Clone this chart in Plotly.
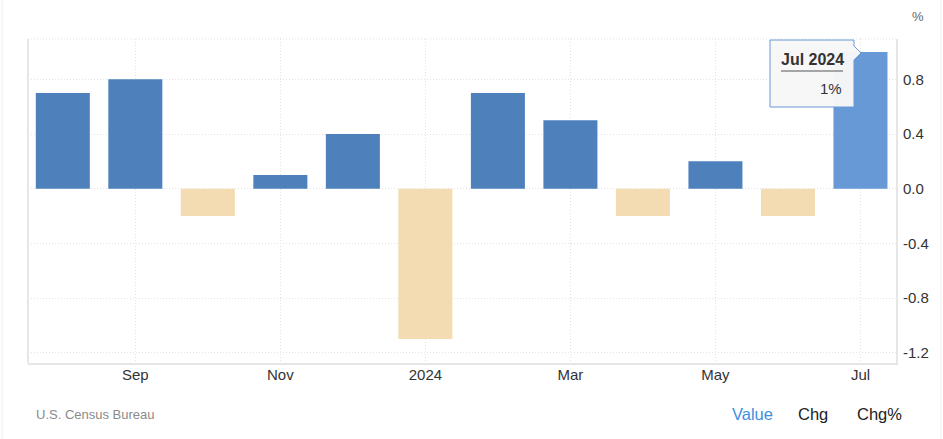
import plotly.graph_objects as go

# ---- data ----
months = ["Aug 2023", "Sep 2023", "Oct 2023", "Nov 2023", "Dec 2023", "Jan 2024",
          "Feb 2024", "Mar 2024", "Apr 2024", "May 2024", "Jun 2024", "Jul 2024"]
values = [0.7, 0.8, -0.2, 0.1, 0.4, -1.1, 0.7, 0.5, -0.2, 0.2, -0.2, 1.0]
tick_months = ["Sep 2023", "Nov 2023", "Jan 2024", "Mar 2024", "May 2024", "Jul 2024"]
tick_text = ["Sep", "Nov", "2024", "Mar", "May", "Jul"]
y_ticks = [0.8, 0.4, 0.0, -0.4, -0.8, -1.2]

POS = "#4e80bc"
NEG = "#f3dcb2"
HOVER = "#6699d5"
colors = [(NEG if v < 0 else POS) for v in values]
colors[-1] = HOVER

W, H = 943, 439
ML, MR, MT, MB = 28, 47, 39, 76
PW, PH = W - ML - MR, H - MT - MB
FONT = "Liberation Sans, Arial, sans-serif"


def px(x):
    return (x - ML) / PW


def py(y):
    return (H - MB - y) / PH


fig = go.Figure(go.Bar(x=months, y=values, marker=dict(color=colors, line=dict(width=0)),
                       width=0.745, hoverinfo="skip"))

fig.update_layout(
    width=W, height=H,
    margin=dict(l=ML, r=MR, t=MT, b=MB),
    paper_bgcolor="white", plot_bgcolor="white",
    showlegend=False,
    font=dict(family=FONT, color="#333333", size=15),
    bargap=0.25,
)
fig.update_xaxes(
    type="category", range=[-0.48, 11.49],
    tickvals=tick_months, ticktext=tick_text,
    showgrid=True, gridcolor="#e3e3e3", griddash="1px,2px", gridwidth=1,
    showline=True, linecolor="#e6e6e6", linewidth=2, mirror=False,
    ticks="", ticklabelstandoff=-3, tickfont=dict(size=15, color="#333333"), zeroline=False,
)
fig.update_yaxes(
    side="right", range=[-1.275, 1.095],
    tickvals=y_ticks, ticktext=[f"{v:.1f}" for v in y_ticks],
    showgrid=True, gridcolor="#e3e3e3", griddash="1px,2px", gridwidth=1,
    zeroline=False, showline=True, linecolor="#e6e6e6", linewidth=2,
    ticks="", ticklabelstandoff=2, tickfont=dict(size=15, color="#333333"),
)

shapes = []
# left border and top dotted line
shapes.append(dict(type="line", xref="paper", yref="paper", x0=0, x1=0, y0=0, y1=1,
                   line=dict(color="#e6e6e6", width=2)))
shapes.append(dict(type="line", xref="paper", yref="paper", x0=0, x1=1, y0=1, y1=1,
                   line=dict(color="#e3e3e3", width=1, dash="1px,2px")))
# card edges
for xe in (2, 941):
    shapes.append(dict(type="line", xref="paper", yref="paper", x0=px(xe), x1=px(xe),
                       y0=py(439), y1=py(0), line=dict(color="#efefef", width=1)))

# tooltip box with pointer
pts = [(770, 40), (854, 40), (854, 46), (861, 53), (854, 60), (854, 107), (770, 107)]
path = "M " + " L ".join(f"{px(a):.5f},{py(b):.5f}" for a, b in pts) + " Z"
shapes.append(dict(type="path", xref="paper", yref="paper", path=path,
                   fillcolor="rgba(247,247,247,0.97)", line=dict(color="#6a9ad8", width=1)))
shapes.append(dict(type="line", xref="paper", yref="paper", x0=px(781), x1=px(843),
                   y0=py(71), y1=py(71), line=dict(color="#555555", width=1)))
fig.update_layout(shapes=shapes)

ann = [
    dict(text="<b>Jul 2024</b>", x=px(812), y=py(59), xanchor="center", yanchor="middle",
         font=dict(size=16, color="#333333")),
    dict(text=f"{values[-1]:g}%", x=px(844), y=py(88), xanchor="right", yanchor="middle",
         font=dict(size=15, color="#333333")),
    dict(text="%", x=px(918), y=py(17), xanchor="center", yanchor="middle",
         font=dict(size=13, color="#666666")),
    dict(text="U.S. Census Bureau", x=px(34), y=py(414), xanchor="left", yanchor="middle",
         font=dict(size=13, color="#8a8a8a")),
    dict(text="Value", x=px(752), y=py(414), xanchor="center", yanchor="middle",
         font=dict(size=16.5, color="#3d8fe0")),
    dict(text="Chg", x=px(813), y=py(414), xanchor="center", yanchor="middle",
         font=dict(size=16.5, color="#222222")),
    dict(text="Chg%", x=px(879), y=py(414), xanchor="center", yanchor="middle",
         font=dict(size=16.5, color="#222222")),
]
for a in ann:
    a.update(xref="paper", yref="paper", showarrow=False)
fig.update_layout(annotations=ann)

fig.write_html("out.html")
